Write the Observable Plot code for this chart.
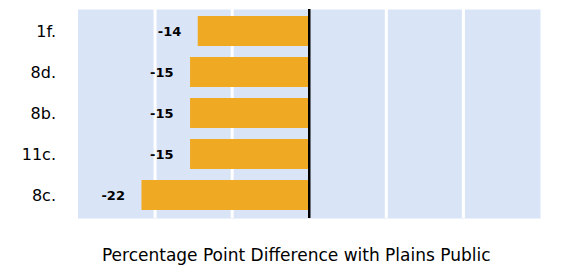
<!DOCTYPE html>
<html>
<head>
<meta charset="utf-8">
<script src="https://cdn.jsdelivr.net/npm/d3@7"></script>
<script src="https://cdn.jsdelivr.net/npm/@observablehq/plot@0.6"></script>
<style>
  html, body { margin: 0; padding: 0; background: #fff; }
</style>
</head>
<body>
<div id="chart"></div>
<script>
const categories = ["1f.", "8d.", "8b.", "11c.", "8c."];
const values = [-14.4, -15.4, -15.4, -15.4, -21.7];
const gridValues = [-20, -10, 10, 20];
const xLabel = "Percentage Point Difference with Plains Public";

const data = categories.map((c, i) => ({cat: c, value: values[i]}));

const chart = Plot.plot({
  width: 567,
  height: 267,
  marginLeft: 77.5,
  marginRight: 27,
  marginTop: 9,
  marginBottom: 49,
  style: {fontFamily: "DejaVu Sans", background: "#fff"},
  x: {domain: [-30, 30], axis: null},
  y: {domain: categories, paddingInner: 0.26, paddingOuter: 0.13, label: null},
  marks: [
    Plot.frame({fill: "#D9E5F7", stroke: null}),
    Plot.ruleX(gridValues, {stroke: "white", strokeWidth: 3}),
    Plot.barX(data, {x: "value", y: "cat", fill: "#F0A923"}),
    Plot.ruleX([0], {stroke: "black", strokeWidth: 2.5}),
    Plot.text(data, {
      x: "value", y: "cat",
      text: d => String(Math.round(d.value)),
      dx: -17, textAnchor: "end",
      fontWeight: "bold", fontSize: 13, fill: "black"
    }),
    Plot.axisY({tickSize: 0, tickPadding: 22, fontSize: 16, label: null, fill: "black"}),
    Plot.text([xLabel], {frameAnchor: "bottom", dy: 42.5, dx: -13, fontSize: 17, fill: "black"})
  ]
});
document.getElementById("chart").appendChild(chart);
</script>
</body>
</html>
